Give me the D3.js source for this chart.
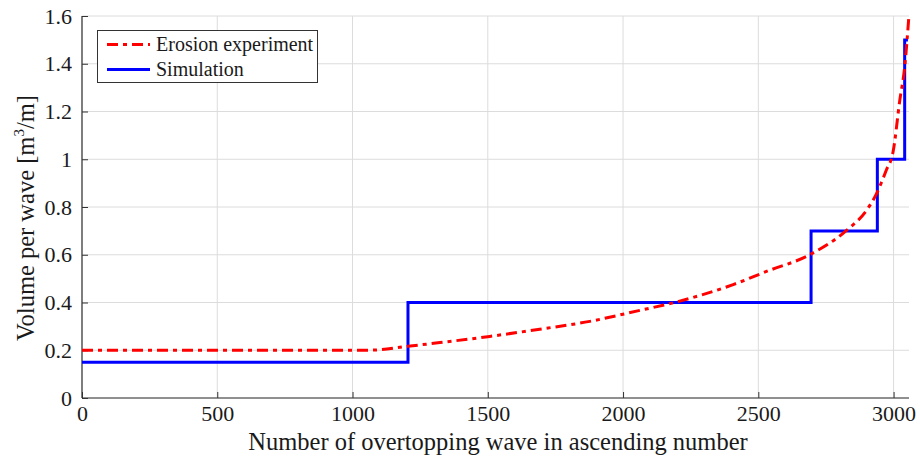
<!DOCTYPE html>
<html>
<head>
<meta charset="utf-8">
<script src="https://cdn.jsdelivr.net/npm/d3@7"></script>
<style>
  html, body { margin: 0; padding: 0; background: #fff; }
  svg { display: block; }
  text { font-family: "Liberation Serif", "Times New Roman", serif; fill: #1a1a1a; }
</style>
</head>
<body>
<svg id="chart" width="920" height="459"></svg>
<script>
// ---- data ----
const xTicks = [0, 500, 1000, 1500, 2000, 2500, 3000];
const yTicks = [0, 0.2, 0.4, 0.6, 0.8, 1, 1.2, 1.4, 1.6];

// Erosion experiment (red dash-dot curve)
const expX = [0, 500, 1000, 1080, 1200, 1323, 1507, 1692, 1877, 2062, 2197, 2407, 2530, 2690, 2826, 2900, 2937, 2973, 2998, 3023, 3041, 3056];
const expY = [0.2, 0.2, 0.2, 0.201, 0.216, 0.232, 0.258, 0.288, 0.321, 0.367, 0.402, 0.475, 0.53, 0.60, 0.702, 0.786, 0.856, 0.954, 1.03, 1.247, 1.386, 1.59];

// Simulation (blue step line): step edges and levels
const simX = [0, 1205, 2695, 2940, 3041, 3053];
const simY = [0.15, 0.4, 0.7, 1.0, 1.5];

// ---- layout ----
const svg = d3.select("#chart");
const mL = 82, mR = 909, mT = 16, mB = 398;
const x = d3.scaleLinear().domain([0, 3057]).range([mL, mR]);
const y = d3.scaleLinear().domain([0, 1.6]).range([mB, mT]);

// grid
const grid = svg.append("g");
grid.selectAll(".gx").data(xTicks).enter().append("line")
  .attr("x1", d => x(d)).attr("x2", d => x(d))
  .attr("y1", mT).attr("y2", mB)
  .attr("stroke", "#dcdcdc").attr("stroke-width", 1);
grid.selectAll(".gy").data(yTicks).enter().append("line")
  .attr("x1", mL).attr("x2", mR)
  .attr("y1", d => y(d)).attr("y2", d => y(d))
  .attr("stroke", "#dcdcdc").attr("stroke-width", 1);

// axes
const xAxis = d3.axisBottom(x).tickValues(xTicks).tickSize(-6).tickPadding(7).tickFormat(d3.format("d"));
const yAxis = d3.axisLeft(y).tickValues(yTicks).tickSize(-6).tickPadding(10).tickFormat(d => d3.format("")(d));

const gx = svg.append("g").attr("transform", `translate(0,${mB})`).call(xAxis);
const gy = svg.append("g").attr("transform", `translate(${mL},0)`).call(yAxis);
[gx, gy].forEach(g => {
  g.select(".domain").attr("stroke", "#333").attr("stroke-width", 1.2);
  g.selectAll(".tick line").attr("stroke", "#333");
  g.selectAll(".tick text").style("font-family", "Liberation Serif, serif").style("font-size", "22px").attr("fill", "#1a1a1a");
});
gx.select(".domain").attr("d", `M${mL},0H${mR}`);
gy.select(".domain").attr("d", `M0,${mB}V${mT}`);

// axis labels
svg.append("text")
  .attr("x", 498).attr("y", 450)
  .attr("text-anchor", "middle").style("font-size", "24.5px")
  .text("Number of overtopping wave in ascending number");

const yl = svg.append("text")
  .attr("transform", `translate(34,218) rotate(-90)`)
  .attr("text-anchor", "middle").style("font-size", "24.5px");
yl.append("tspan").text("Volume per wave [m");
yl.append("tspan").attr("dy", -10).style("font-size", "15px").text("3");
yl.append("tspan").attr("dy", 10).text("/m]");

// simulation step line
const simPts = [];
simY.forEach((v, i) => { simPts.push([simX[i], v]); simPts.push([simX[i + 1], v]); });
svg.append("path")
  .datum(simPts)
  .attr("fill", "none").attr("stroke", "#0000ff").attr("stroke-width", 3)
  .attr("d", d3.line().x(d => x(d[0])).y(d => y(d[1])));

// experiment curve
const expPts = expX.map((v, i) => [v, expY[i]]);
svg.append("path")
  .datum(expPts)
  .attr("fill", "none").attr("stroke", "#ff0000").attr("stroke-width", 3)
  .attr("stroke-dasharray", "11,5,4,5")
  .attr("d", d3.line().curve(d3.curveMonotoneX).x(d => x(d[0])).y(d => y(d[1])));

// legend
const lg = svg.append("g");
lg.append("rect").attr("x", 97.5).attr("y", 30.5).attr("width", 220).attr("height", 52)
  .attr("fill", "#fff").attr("stroke", "#333").attr("stroke-width", 1);
const legendItems = [
  { label: "Erosion experiment", color: "#ff0000", dash: "11,5,4,5" },
  { label: "Simulation", color: "#0000ff", dash: null }
];
legendItems.forEach((it, i) => {
  const cy = 44.5 + i * 25;
  lg.append("line").attr("x1", 107).attr("x2", 150).attr("y1", cy).attr("y2", cy)
    .attr("stroke", it.color).attr("stroke-width", 3)
    .attr("stroke-dasharray", it.dash);
  lg.append("text").attr("x", 156).attr("y", cy + 6.5).style("font-size", "20px").text(it.label);
});
</script>
</body>
</html>
